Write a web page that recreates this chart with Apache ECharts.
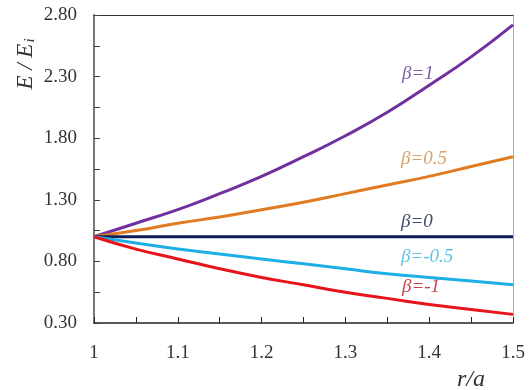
<!DOCTYPE html>
<html><head><meta charset="utf-8">
<script src="https://cdn.jsdelivr.net/npm/echarts@6/dist/echarts.min.js"></script>
<style>html,body{margin:0;padding:0;background:#fff}#c{width:531px;height:390px}</style>
</head><body><div id="c"></div>
<script>
var xs = [1.00,1.05,1.10,1.15,1.20,1.25,1.30,1.35,1.40,1.45,1.50];
var beta1 = [1.00,1.11,1.22,1.35,1.49,1.65,1.82,2.01,2.23,2.46,2.72];
var beta05 = [1.00,1.05,1.11,1.16,1.22,1.28,1.35,1.42,1.49,1.57,1.65];
var beta0 = [1.00,1.00,1.00,1.00,1.00,1.00,1.00,1.00,1.00,1.00,1.00];
var betam05 = [1.00,0.95,0.90,0.86,0.82,0.78,0.74,0.70,0.67,0.64,0.61];
var betam1 = [1.00,0.90,0.82,0.74,0.67,0.61,0.55,0.50,0.45,0.41,0.37];
var seriesNames = ['β=1','β=0.5','β=0','β=-0.5','β=-1'];
var yTicks = [0.30,0.80,1.30,1.80,2.30,2.80];

function pts(arr){ return xs.map(function(x,i){ return [x, arr[i]]; }); }
var font = '"Liberation Serif", "DejaVu Serif", serif';
var lineCols = ['#7030A0','#E07B22','#0B1F5A','#1CAFE5','#E8141B'];
var labCols = ['#7C5CA8','#D9A06C','#3C4A6C','#62C2E6','#C8404C'];
var data = [beta1,beta05,beta0,betam05,betam1];
var labPos = [[402,64],[401,149],[401,212],[401,247],[402,277]];

var chart = echarts.init(document.getElementById('c'));
chart.setOption({
  animation:false,
  grid:{left:94,right:18,top:15,bottom:67},
  xAxis:[{
    type:'value',min:1,max:1.5,interval:0.1,
    axisLine:{lineStyle:{color:'#222',width:1.5}},
    axisTick:{inside:true,length:6,lineStyle:{color:'#222'}},
    minorTick:{show:true,splitNumber:2,length:6,lineStyle:{color:'#222'}},
    splitLine:{show:false},
    axisLabel:{margin:21,fontFamily:font,fontSize:19,color:'#333',formatter:function(v){return String(+v.toFixed(2));}}
  },{
    type:'value',position:'top',min:1,max:1.5,
    axisLine:{show:true,onZero:false,lineStyle:{color:'#333',width:1.2}},
    axisTick:{show:false},axisLabel:{show:false},splitLine:{show:false}
  }],
  yAxis:[{
    type:'value',min:0.3,max:2.8,interval:0.5,
    axisLine:{show:true,lineStyle:{color:'#777',width:2}},
    axisTick:{inside:true,length:6,lineStyle:{color:'#444'}},
    minorTick:{show:true,splitNumber:2,length:6,lineStyle:{color:'#444'}},
    splitLine:{show:false},
    axisLabel:{margin:17,fontFamily:font,fontSize:19,color:'#333',formatter:function(v){return v.toFixed(2);}}
  },{
    type:'value',position:'right',min:0.3,max:2.8,
    axisLine:{show:true,onZero:false,lineStyle:{color:'#aaa',width:1}},
    axisTick:{show:false},axisLabel:{show:false},splitLine:{show:false}
  }],
  series:data.map(function(d,i){
    return {type:'line',name:seriesNames[i],data:pts(d),smooth:true,showSymbol:false,
      lineStyle:{color:lineCols[i],width:3}};
  }),
  graphic:seriesNames.map(function(n,i){
    return {type:'text',left:labPos[i][0],top:labPos[i][1],
      style:{text:n,fill:labCols[i],font:'italic 19px '+font}};
  }).concat([
    {type:'text',x:26,y:64,rotation:Math.PI/2,
      style:{text:'{a|E / E}{b|i}',align:'center',verticalAlign:'middle',
        rich:{a:{fontFamily:font,fontStyle:'italic',fontSize:23,fill:'#333',lineHeight:24},
              b:{fontFamily:font,fontStyle:'italic',fontSize:15,fill:'#333',verticalAlign:'bottom',lineHeight:24,padding:[0,0,0,1]}}}},
    {type:'text',x:471,y:380,
      style:{text:'r/a',align:'center',verticalAlign:'middle',fill:'#333',font:'italic 24px '+font}}
  ])
});
</script></body></html>
